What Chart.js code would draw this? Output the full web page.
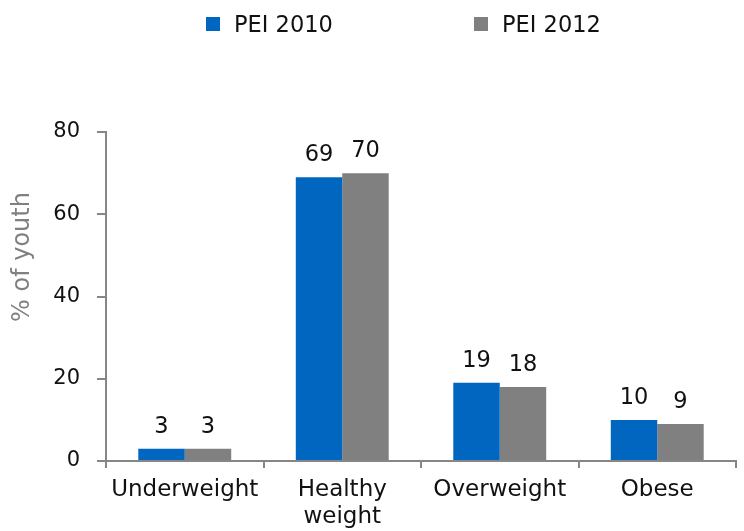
<!DOCTYPE html>
<html>
<head>
<meta charset="utf-8">
<script src="https://cdn.jsdelivr.net/npm/chart.js@4.4.1/dist/chart.umd.min.js"></script>
<style>
    html, body { margin: 0; padding: 0; background: #fff; }
    #wrap { position: relative; width: 744px; height: 531px; }
    #legend { position: absolute; top: 10px; left: 0; width: 744px; font-family: "DejaVu Sans", sans-serif; font-size: 22.5px; color: #111; }
    .item { position: absolute; top: 0; display: flex; align-items: center; height: 28px; }
    .box { width: 14px; height: 14px; margin-right: 14px; }
</style>
</head>
<body>
<div id="wrap">
    <div id="legend"></div>
    <canvas id="chart" width="744" height="531"></canvas>
</div>
<script>
const categories = ["Underweight", ["Healthy", "weight"], "Overweight", "Obese"];
const seriesNames = ["PEI 2010", "PEI 2012"];
const pei2010 = [3, 69, 19, 10];
const pei2012 = [3, 70, 18, 9];
const yTicks = [0, 20, 40, 60, 80];
const yTitle = "% of youth";

const colors = ["#0066c0", "#808080"];
const legendLeft = [206, 474];

// legend drawn in HTML so the items can sit far apart
const legend = document.getElementById("legend");
seriesNames.forEach((name, i) => {
    const el = document.createElement("div");
    el.className = "item";
    el.style.left = legendLeft[i] + "px";
    el.innerHTML = `<span class="box" style="background:${colors[i]}"></span><span>${name}</span>`;
    legend.appendChild(el);
});

// value labels over bars + the y title (sits above the centre in the original)
const extras = {
    id: "extras",
    afterDatasetsDraw(chart) {
        const ctx = chart.ctx;
        ctx.save();
        ctx.font = "22.5px 'DejaVu Sans', sans-serif";
        ctx.fillStyle = "#111";
        ctx.textAlign = "center";
        ctx.textBaseline = "alphabetic";
        chart.data.datasets.forEach((ds, i) => {
            chart.getDatasetMeta(i).data.forEach((bar, j) => {
                ctx.fillText(ds.data[j], bar.x, bar.y - 16);
            });
        });

        ctx.translate(23, 257);
        ctx.rotate(-Math.PI / 2);
        ctx.font = "24px 'DejaVu Sans', sans-serif";
        ctx.fillStyle = "#808080";
        ctx.textBaseline = "middle";
        ctx.fillText(yTitle, 0, 0);
        ctx.restore();
    }
};

new Chart(document.getElementById("chart"), {
    type: "bar",
    data: {
        labels: categories,
        datasets: [
            { label: seriesNames[0], data: pei2010, backgroundColor: colors[0] },
            { label: seriesNames[1], data: pei2012, backgroundColor: colors[1] }
        ]
    },
    options: {
        responsive: false,
        animation: false,
        layout: { padding: { top: 132, right: 8, left: 0, bottom: 0 } },
        datasets: { bar: { barPercentage: 1, categoryPercentage: 0.59 } },
        plugins: {
            legend: { display: false },
            tooltip: { enabled: false }
        },
        scales: {
            x: {
                grid: { offset: true, drawOnChartArea: false, tickLength: 7, color: "#868686", lineWidth: 2 },
                border: { color: "#868686", width: 2 },
                ticks: { color: "#111", font: { family: "DejaVu Sans", size: 23, lineHeight: 1.17 }, padding: 9, maxRotation: 0, autoSkip: false },
                afterFit(scale) { scale.height = 70; }
            },
            y: {
                min: 0,
                max: 80,
                afterBuildTicks(scale) { scale.ticks = yTicks.map(v => ({ value: v })); },
                grid: { drawOnChartArea: false, tickLength: 9, color: "#868686", lineWidth: 2 },
                border: { color: "#868686", width: 2 },
                ticks: { color: "#111", font: { family: "DejaVu Sans", size: 21 }, padding: 17 },
                afterFit(scale) { scale.width = 106; }
            }
        }
    },
    plugins: [extras]
});
</script>
</body>
</html>
